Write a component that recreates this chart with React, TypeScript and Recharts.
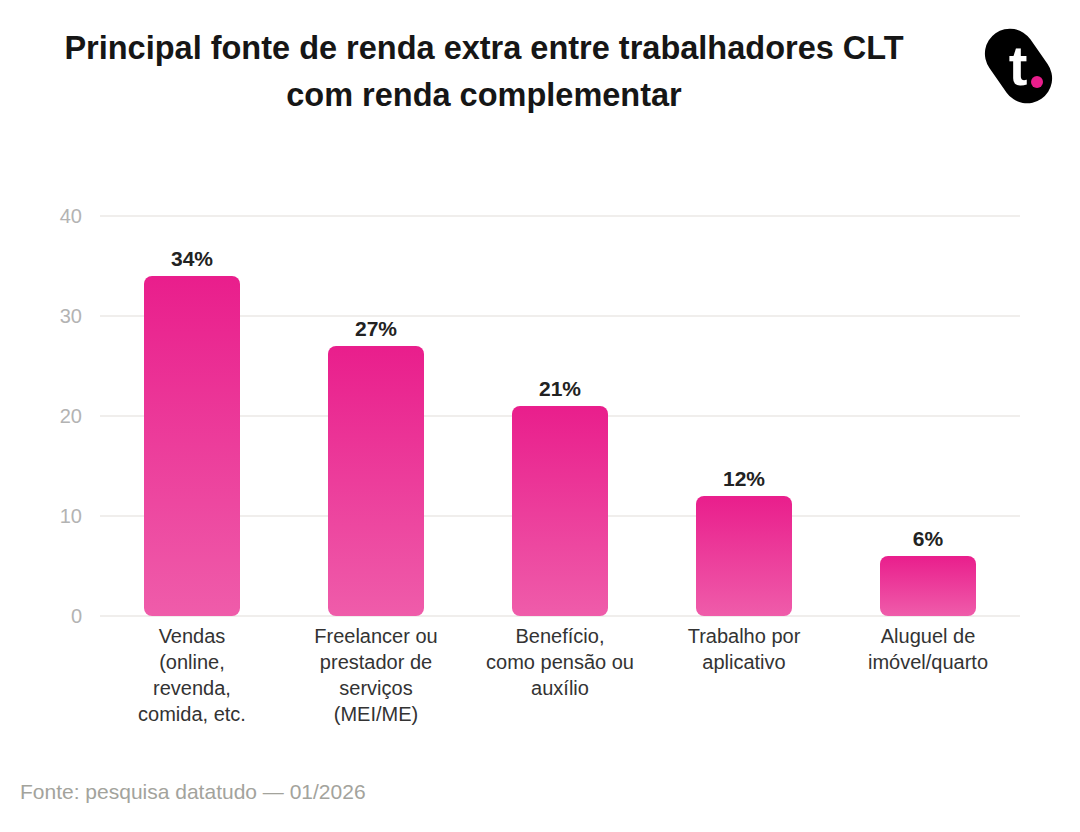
import { BarChart, Bar, XAxis, YAxis, CartesianGrid, LabelList } from "recharts";

const categories = ["vendas", "freelancer", "beneficio", "aplicativo", "aluguel"];
const categoryLines = [
  ["Vendas", "(online,", "revenda,", "comida, etc."],
  ["Freelancer ou", "prestador de", "serviços", "(MEI/ME)"],
  ["Benefício,", "como pensão ou", "auxílio"],
  ["Trabalho por", "aplicativo"],
  ["Aluguel de", "imóvel/quarto"],
];
const shares = [34, 27, 21, 12, 6];
const yTicks = [0, 10, 20, 30, 40];

const data = categories.map((key, i) => ({ key, value: shares[i] }));

const FONT = "'Liberation Sans', Arial, Helvetica, sans-serif";

function CategoryTick(props: any) {
  const { x, y, index } = props;
  const lines = categoryLines[index] || [];
  return (
    <text x={x} y={y} textAnchor="middle" fontFamily={FONT} fontSize={20} fill="#333333">
      {lines.map((line, i) => (
        <tspan key={i} x={x} y={y + 19 + i * 26}>
          {line}
        </tspan>
      ))}
    </text>
  );
}

function ValueLabel(props: any) {
  const { x, y, width, value } = props;
  return (
    <text
      x={x + width / 2}
      y={y - 10}
      textAnchor="middle"
      fontFamily={FONT}
      fontSize={21}
      fontWeight="bold"
      fill="#222222"
    >
      {value}%
    </text>
  );
}

function Logo() {
  return (
    <svg width={100} height={100} style={{ position: "absolute", left: 970, top: 20 }}>
      <rect x={23.5} y={6} width={50} height={80} rx={25} fill="#000" transform="rotate(-35 48.5 46)" />
      <text x={48} y={65} textAnchor="middle" fontFamily={FONT} fontSize={56} fontWeight="bold" fill="#fff">
        t
      </text>
      <circle cx={67} cy={62} r={6} fill="#e91e8c" />
    </svg>
  );
}

export default function App() {
  return (
    <div
      style={{
        position: "absolute",
        left: 0,
        top: 0,
        width: 1080,
        height: 832,
        background: "#ffffff",
        fontFamily: FONT,
        overflow: "hidden",
      }}
    >
      <div
        style={{
          position: "absolute",
          left: 0,
          width: 968,
          top: 25,
          textAlign: "center",
          fontSize: 32.5,
          fontWeight: "bold",
          lineHeight: "47px",
          color: "#161616",
          whiteSpace: "nowrap",
        }}
      >
        Principal fonte de renda extra entre trabalhadores CLT
        <br />
        com renda complementar
      </div>
      <Logo />
      <div style={{ position: "absolute", left: 0, top: 0 }}>
        <BarChart
          width={1080}
          height={760}
          data={data}
          margin={{ top: 216, right: 60, left: 0, bottom: 14 }}
          barSize={96}
        >
          <defs>
            <linearGradient id="barFill" x1="0" y1="0" x2="0" y2="1">
              <stop offset="0%" stopColor="#e91e8c" />
              <stop offset="100%" stopColor="#ef5caa" />
            </linearGradient>
          </defs>
          <CartesianGrid vertical={false} stroke="#ebe9e6" strokeWidth={1.5} />
          <XAxis
            dataKey="key"
            axisLine={false}
            tickLine={false}
            interval={0}
            height={130}
            tick={<CategoryTick />}
          />
          <YAxis
            domain={[0, 40]}
            ticks={yTicks}
            axisLine={false}
            tickLine={false}
            width={100}
            tickMargin={12}
            tick={{ fill: "#b3b3b3", fontSize: 20, fontFamily: FONT }}
          />
          <Bar dataKey="value" fill="url(#barFill)" radius={8} isAnimationActive={false}>
            <LabelList dataKey="value" content={<ValueLabel />} />
          </Bar>
        </BarChart>
      </div>
      <div
        style={{
          position: "absolute",
          left: 20,
          top: 780,
          fontSize: 21,
          color: "#a3a39c",
        }}
      >
        Fonte: pesquisa datatudo — 01/2026
      </div>
    </div>
  );
}
